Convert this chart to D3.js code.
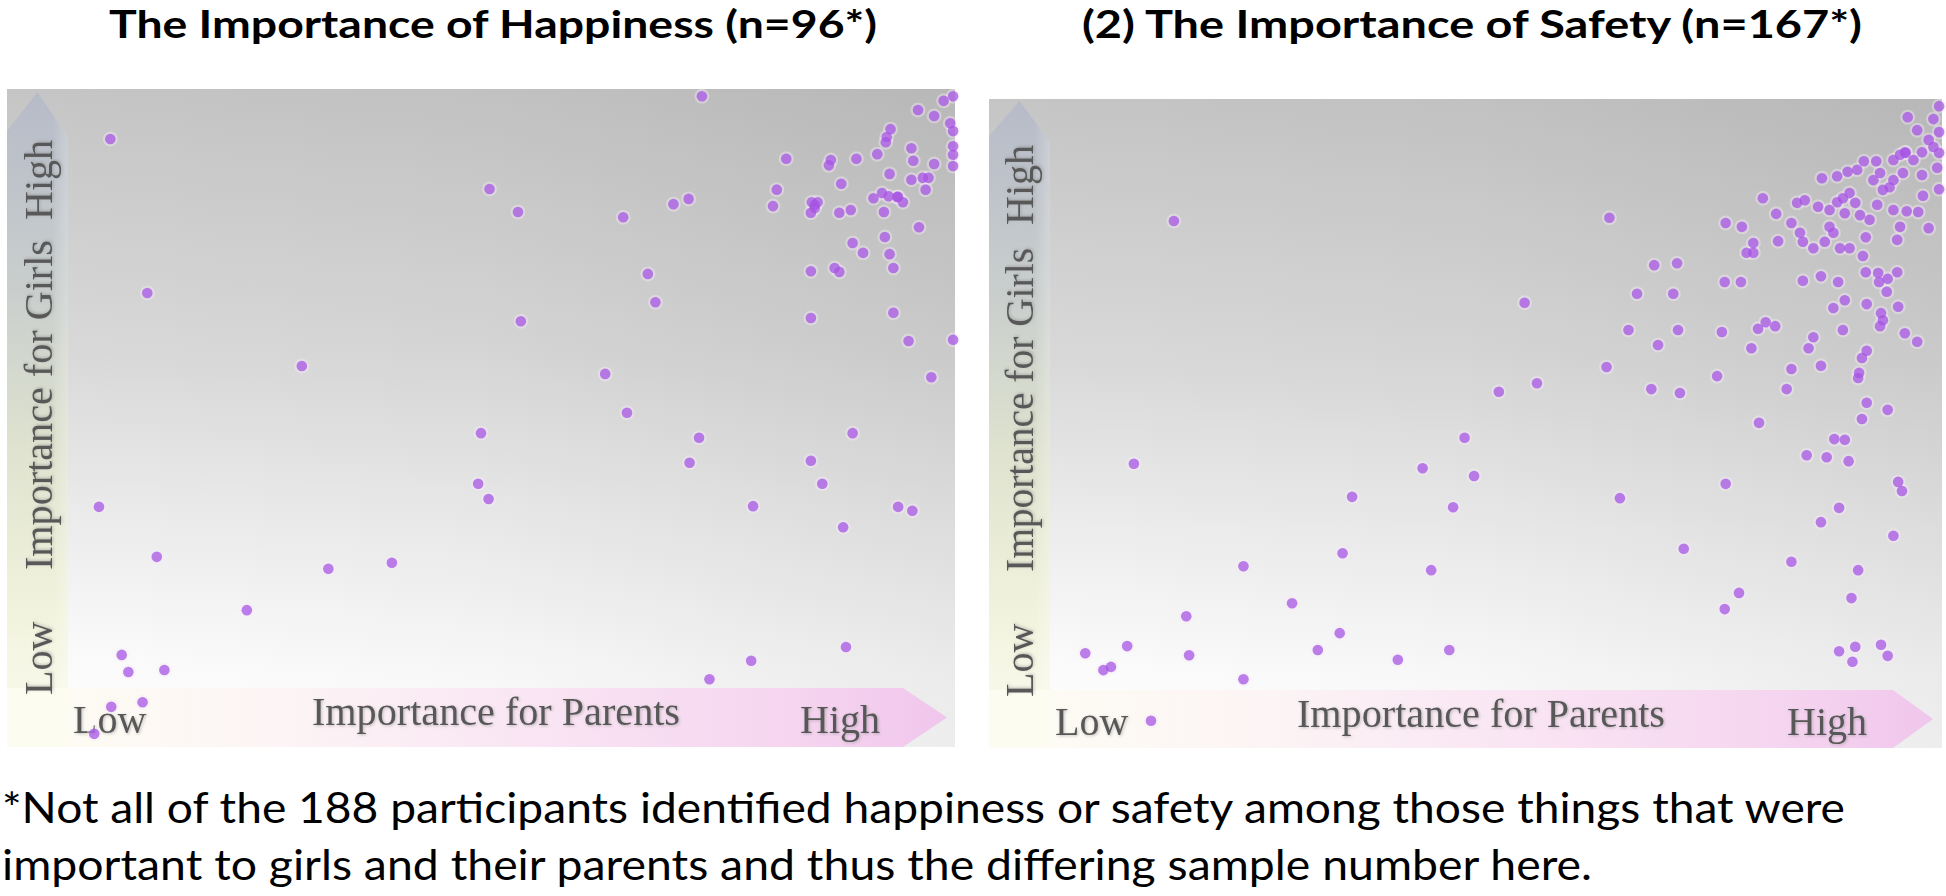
<!DOCTYPE html>
<html><head><meta charset="utf-8">
<script src="https://cdn.jsdelivr.net/npm/d3@7"></script>
<style>html,body{margin:0;padding:0;background:#fff;} svg{display:block;}</style>
</head><body>
<svg id="chart" width="1946" height="896"></svg>
<script>
// ---------- DATA ----------
const titles = ["The Importance of Happiness (n=96*)", "(2) The Importance of Safety (n=167*)"];
const footnoteLines = [
  "*Not all of the 188 participants identified happiness or safety among those things that were",
  "important to girls and their parents and thus the differing sample number here."
];
const lowLabel = "Low";
const highLabel = "High";
const xAxisLabel = "Importance for Parents";
const yAxisLabel = "Importance for Girls";

// Importance scale 0 (low) .. 100 (high)
const happinessParents = [10.9,14.8,31.1,50.9,50.0,49.7,50.8,9.7,15.8,33.9,
  40.6,25.3,12.1,12.8,16.6,11.0,14.3,9.2,73.3,99.8,
  98.8,96.1,97.8,99.5,99.8,93.2,92.8,92.7,99.8,99.8,
  99.8,95.4,91.8,95.6,97.8,89.6,86.9,86.7,82.2,93.1,
  95.4,96.6,97.2,96.9,88.0,81.2,80.8,84.9,85.5,85.2,
  84.8,87.8,89.0,91.4,92.3,93.0,93.9,94.5,92.5,96.2,
  92.6,89.2,90.3,93.1,93.5,84.8,87.3,87.8,93.5,84.8,
  95.1,99.8,97.5,89.2,84.8,86.0,53.9,65.0,70.3,71.9,
  67.6,68.4,54.2,63.1,65.4,73.0,72.0,78.7,94.0,95.5,
  88.2,88.5,78.5,74.1,85.2,94.0];
const happinessGirls = [92.4,69.0,57.9,84.8,47.7,40.0,37.7,36.5,28.9,27.1,
  28.0,20.8,14.0,11.4,11.7,6.1,6.8,2.0,98.9,98.9,
  98.2,96.8,95.9,94.8,93.6,93.9,92.7,91.9,91.3,90.0,
  88.3,91.0,90.1,89.1,88.6,89.4,89.2,88.4,89.4,87.1,
  86.2,86.5,86.5,84.7,85.6,84.7,82.2,82.8,82.8,81.9,
  81.2,81.2,81.6,83.4,84.2,83.7,83.6,82.8,81.3,79.0,
  77.5,76.6,75.1,74.9,72.8,72.3,72.8,72.2,66.0,65.2,
  61.7,61.9,56.2,47.7,43.5,40.0,81.3,80.5,82.5,83.3,
  71.9,67.6,64.7,56.7,50.8,47.0,43.2,36.6,36.5,35.9,
  33.4,15.2,13.1,10.3,82.4,83.6];

const safetyParents = [19.4,15.2,45.5,49.9,50.9,38.1,48.7,37.1,26.7,46.4,
  31.8,20.7,36.8,10.1,14.5,12.0,12.8,21.0,34.5,42.9,
  48.3,26.7,17.0,99.7,96.4,99.1,97.4,99.7,98.6,99.1,
  99.7,97.9,96.2,99.5,99.7,98.0,98.6,87.4,89.0,90.1,
  91.1,91.8,93.1,94.9,95.6,96.1,97.0,95.9,97.9,93.5,
  94.9,94.5,93.8,92.8,90.3,89.6,89.0,90.9,93.2,94.9,
  96.3,97.5,84.8,85.6,87.0,88.2,89.8,91.4,92.4,95.6,
  81.2,82.6,84.2,88.2,88.6,85.1,85.4,86.5,87.7,89.3,
  90.3,92.0,95.3,91.7,82.8,77.3,79.0,80.2,79.5,80.2,
  65.1,69.8,72.2,68.0,71.8,56.2,77.2,78.9,85.4,87.3,
  89.1,92.0,93.3,93.4,94.3,95.3,94.2,89.8,88.6,92.1,
  95.4,93.6,93.8,93.5,67.1,72.3,70.2,76.9,80.7,81.5,
  82.5,80.0,89.6,86.5,86.0,96.1,97.4,92.1,91.6,84.2,
  87.3,91.3,91.2,64.8,76.4,57.5,53.5,69.5,72.5,83.7,
  92.1,94.3,91.6,80.8,88.7,89.8,85.8,87.9,90.2,77.3,
  95.4,95.8,66.2,72.9,89.2,87.3,94.9,84.2,91.2,78.7,
  77.2,90.5,89.2,90.9,90.6,93.6,94.3];
const safetyGirls = [81.2,43.8,43.1,47.8,41.9,38.7,37.1,30.0,28.0,27.4,
  22.3,20.3,17.7,14.6,15.7,12.0,12.5,14.3,15.1,13.6,
  15.1,10.6,4.2,98.9,97.2,96.9,95.2,94.9,93.7,92.6,
  91.7,91.8,91.7,89.4,86.1,85.1,80.1,87.8,88.1,88.8,
  89.1,90.4,90.4,90.6,91.4,91.8,90.6,88.6,88.3,88.6,
  87.5,86.4,86.0,87.5,85.5,84.7,84.1,84.0,83.7,82.9,
  82.7,82.6,84.0,84.4,83.4,82.9,82.4,82.1,81.4,80.3,
  84.7,82.3,80.9,80.3,79.4,79.4,78.0,77.0,78.0,77.0,
  77.0,78.7,78.3,75.8,78.1,80.9,80.3,77.8,76.3,76.3,
  81.7,74.4,74.7,70.0,70.0,68.6,71.8,71.8,72.0,72.7,
  71.8,73.3,73.2,71.8,72.3,73.3,70.3,69.0,67.8,68.4,
  68.0,67.0,65.9,65.0,64.4,64.4,62.1,64.1,64.6,65.6,
  65.0,61.6,64.4,63.3,61.6,63.9,62.6,61.2,60.1,58.4,
  58.9,57.8,57.0,58.7,57.3,56.2,54.9,55.3,54.7,55.3,
  53.2,52.1,50.7,50.1,47.6,47.5,45.1,44.8,44.2,40.7,
  41.0,39.6,38.5,30.7,37.0,34.8,32.7,28.7,27.4,23.9,
  21.4,23.1,14.9,15.6,13.3,15.9,14.2];

// ---------- LAYOUT ----------
const panels = [
  { title: titles[0], parents: happinessParents, girls: happinessGirls,
    x0: 7, x1: 955, y0: 89, y1: 747,
    titleX: 109, titleW: 768,
    vBand: { right: 68, tipY: 92, shoulderY: 137 },
    hBand: { top: 688, shoulderX: 903, tipX: 947 },
    vText: { x: 52, low: 695, mid: 570, midW: 330, high: 220 },
    hText: { low: [73, 733], mid: [312, 725], high: [800, 733] } },
  { title: titles[1], parents: safetyParents, girls: safetyGirls,
    x0: 989, x1: 1942, y0: 99, y1: 748,
    titleX: 1082, titleW: 780,
    vBand: { right: 1050, tipY: 101, shoulderY: 142 },
    hBand: { top: 690, shoulderX: 1893, tipX: 1933 },
    vText: { x: 1033, low: 697, mid: 572, midW: 324, high: 225 },
    hText: { low: [1055, 735], mid: [1297, 727], high: [1787, 735] } }
];

const svg = d3.select("#chart");
const defs = svg.append("defs");

function grad(id, x1, y1, x2, y2, stops) {
  const g = defs.append("linearGradient").attr("id", id)
    .attr("x1", x1).attr("y1", y1).attr("x2", x2).attr("y2", y2);
  stops.forEach(s => g.append("stop").attr("offset", s[0]).attr("stop-color", s[1]).attr("stop-opacity", s[2] == null ? 1 : s[2]));
}
grad("bgV", 0, 1, 0, 0, [[0, "#ffffff"], [0.12, "#fcfcfc"], [0.35, "#ececec"], [0.6, "#d9d9d9"], [1, "#c5c5c5"]]);
grad("bgH", 0, 0, 1, 0, [[0, "#000", 0], [0.5, "#000", 0.02], [1, "#000", 0.07]]);
grad("vBandG", 0, 0, 0, 1, [[0, "#b6bbc8"], [0.3, "#c9cecd"], [0.55, "#dfe3cf"], [0.8, "#f2f3de"], [1, "#fcfcf2"]]);
grad("vBandFade", 0, 0, 1, 0, [[0, "#fff", 0], [0.75, "#fff", 0], [1, "#fff", 0.25]]);
grad("hBandG", 0, 0, 1, 0, [[0, "#fdfdf3"], [0.3, "#fcf4f5"], [0.6, "#f9e3f3"], [0.85, "#f5d4ef"], [1, "#f0c6ec"]]);

const shadow = defs.append("filter").attr("id", "txtShadow")
  .attr("x", "-5%").attr("y", "-20%").attr("width", "110%").attr("height", "140%");
shadow.append("feDropShadow").attr("dx", 1).attr("dy", 1).attr("stdDeviation", 1.4)
  .attr("flood-color", "#777").attr("flood-opacity", 0.45);

panels.forEach((p, i) => {
  const x = d3.scaleLinear().domain([0, 100]).range([p.x0, p.x1]);
  const y = d3.scaleLinear().domain([0, 100]).range([p.y1, p.y0]);
  const g = svg.append("g");

  // background
  g.append("rect").attr("x", p.x0).attr("y", p.y0).attr("width", p.x1 - p.x0).attr("height", p.y1 - p.y0)
    .attr("fill", "url(#bgV)");
  g.append("rect").attr("x", p.x0).attr("y", p.y0).attr("width", p.x1 - p.x0).attr("height", p.y1 - p.y0)
    .attr("fill", "url(#bgH)");

  // vertical arrow band
  const vb = p.vBand;
  const midX = (p.x0 + vb.right) / 2;
  const vPath = `M${p.x0},${p.y1} L${p.x0},${vb.shoulderY - 6} L${midX},${vb.tipY} L${vb.right},${vb.shoulderY} L${vb.right},${p.y1} Z`;
  g.append("path").attr("d", vPath).attr("fill", "url(#vBandG)");
  g.append("path").attr("d", vPath).attr("fill", "url(#vBandFade)");

  // horizontal arrow band
  const hb = p.hBand;
  const midY = (hb.top + p.y1) / 2;
  g.append("path")
    .attr("d", `M${p.x0},${hb.top} L${hb.shoulderX},${hb.top} L${hb.tipX},${midY} L${hb.shoulderX},${p.y1} L${p.x0},${p.y1} Z`)
    .attr("fill", "url(#hBandG)");
  g.append("rect").attr("x", p.x0).attr("y", hb.top).attr("width", vb.right - p.x0).attr("height", p.y1 - hb.top)
    .attr("fill", "#fcfcf1");

  // axis words
  const serif = "'Liberation Serif','Times New Roman','DejaVu Serif',serif";
  const tstyle = sel => sel.attr("font-family", serif).attr("font-size", 40).attr("fill", "#585858")
    .attr("filter", "url(#txtShadow)");
  const vt = p.vText;
  [[lowLabel, vt.low, null], [yAxisLabel, vt.mid, vt.midW], [highLabel, vt.high, null]].forEach(d => {
    const t = g.append("text").attr("transform", `translate(${vt.x},${d[1]}) rotate(-90)`).text(d[0]).call(tstyle);
    if (d[2]) t.attr("textLength", d[2]).attr("lengthAdjust", "spacingAndGlyphs");
  });
  const ht = p.hText;
  g.append("text").attr("x", ht.low[0]).attr("y", ht.low[1]).text(lowLabel).call(tstyle);
  g.append("text").attr("x", ht.mid[0]).attr("y", ht.mid[1]).text(xAxisLabel).call(tstyle)
    .attr("textLength", 368).attr("lengthAdjust", "spacingAndGlyphs");
  g.append("text").attr("x", ht.high[0]).attr("y", ht.high[1]).text(highLabel).call(tstyle);

  // points
  const pts = p.parents.map((v, k) => ({ px: v, gy: p.girls[k] }));
  g.append("g").selectAll("circle").data(pts).join("circle")
    .attr("cx", d => x(d.px)).attr("cy", d => y(d.gy)).attr("r", 7.5)
    .attr("fill", "#f4ecf9").attr("fill-opacity", 0.4);
  g.append("g").selectAll("circle").data(pts).join("circle")
    .attr("cx", d => x(d.px)).attr("cy", d => y(d.gy)).attr("r", 5.3)
    .attr("fill", "#a654e2").attr("fill-opacity", 0.74);

  // title
  svg.append("text").attr("x", p.titleX).attr("y", 38).text(p.title)
    .attr("font-family", "Lato,'Open Sans',sans-serif").attr("font-weight", 700).attr("font-size", 38)
    .attr("fill", "#000").attr("textLength", p.titleW).attr("lengthAdjust", "spacingAndGlyphs");
});

// footnote
const fnW = [1843, 1590];
const fnY = [823, 880];
footnoteLines.forEach((line, i) => {
  svg.append("text").attr("x", 2).attr("y", fnY[i]).text(line)
    .attr("font-family", "Lato,'Open Sans',sans-serif").attr("font-size", 43).attr("fill", "#000")
    .attr("textLength", fnW[i]).attr("lengthAdjust", "spacingAndGlyphs");
});
</script>
</body></html>
